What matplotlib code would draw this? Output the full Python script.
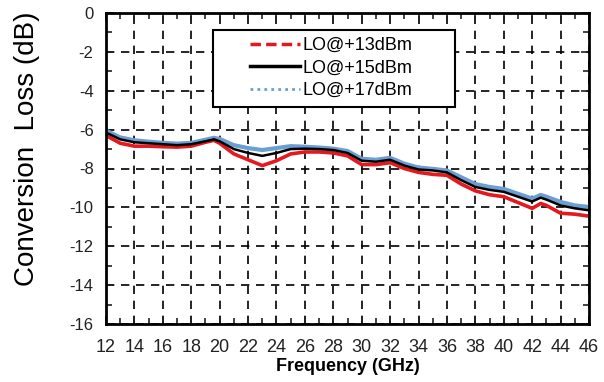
import numpy as np
import matplotlib
matplotlib.use("Agg")
import matplotlib.pyplot as plt
from matplotlib.lines import Line2D
from matplotlib.patches import Rectangle
from matplotlib.ticker import MultipleLocator

plt.rcParams['font.family'] = ['Liberation Sans', 'DejaVu Sans']
plt.rcParams['axes.unicode_minus'] = False

# frequency points (GHz)
freq = [12, 13, 14, 15, 16, 17, 18, 19, 19.6, 20, 21, 22, 23, 24, 25, 26, 27, 28,
        29, 30, 31, 32, 33, 34, 35, 36, 37, 38, 39, 40, 41, 42, 42.6, 43, 44, 45, 46]

# conversion loss (dB) for each LO drive level
loss_13 = [-6.30, -6.70, -6.85, -6.85, -6.88, -6.90, -6.85, -6.65, -6.55, -6.70,
           -7.25, -7.55, -7.85, -7.60, -7.25, -7.15, -7.15, -7.20, -7.35, -7.80,
           -7.80, -7.70, -8.00, -8.20, -8.30, -8.35, -8.80, -9.15, -9.35, -9.45,
           -9.75, -10.05, -9.80, -9.90, -10.30, -10.35, -10.45]
loss_15 = [-6.15, -6.50, -6.65, -6.70, -6.75, -6.80, -6.75, -6.60, -6.50, -6.60,
           -7.00, -7.20, -7.35, -7.20, -7.00, -6.98, -7.00, -7.05, -7.20, -7.60,
           -7.65, -7.55, -7.85, -8.05, -8.10, -8.20, -8.60, -8.95, -9.10, -9.20,
           -9.45, -9.70, -9.50, -9.60, -9.90, -10.05, -10.15]
loss_17 = [-6.05, -6.40, -6.55, -6.62, -6.68, -6.72, -6.68, -6.52, -6.42, -6.48,
           -6.80, -6.95, -7.05, -6.95, -6.85, -6.88, -6.92, -6.98, -7.10, -7.50,
           -7.55, -7.45, -7.75, -7.95, -8.02, -8.10, -8.45, -8.80, -8.95, -9.05,
           -9.30, -9.55, -9.36, -9.45, -9.72, -9.90, -9.98]

labels = ["LO@+13dBm", "LO@+15dBm", "LO@+17dBm"]
colors = ["#e3191f", "#000000", "#6b9fd4"]

fig = plt.figure(figsize=(6.04, 3.82), dpi=100)
ax = fig.add_axes([106 / 604, 1 - 324 / 382, 483 / 604, 311 / 382])

ax.plot(freq, loss_17, color=colors[2], lw=3.0, zorder=3)
ax.plot(freq, loss_13, color=colors[0], lw=2.6, zorder=3)
ax.plot(freq, loss_15, color=colors[1], lw=1.8, zorder=3)

ax.set_xlim(12, 46)
ax.set_ylim(-16, 0)
ax.xaxis.set_major_locator(MultipleLocator(2))
ax.xaxis.set_minor_locator(MultipleLocator(1))
ax.yaxis.set_major_locator(MultipleLocator(2))
ax.yaxis.set_minor_locator(MultipleLocator(1))

ax.grid(True, which='major', color='black', lw=1.2, ls=(0, (5, 4)), zorder=1)
for s in ax.spines.values():
    s.set_linewidth(2.0)
    s.set_zorder(6)

ax.tick_params(which='both', direction='in', top=True, right=True, width=1.2,
               colors='#222222')
ax.tick_params(which='major', length=6)
ax.tick_params(which='minor', length=4)
ax.tick_params(axis='x', labelsize=13, pad=11)
ax.tick_params(axis='y', labelsize=12, pad=9)

ax.set_xlabel("Frequency (GHz)", fontsize=13, fontweight='bold', labelpad=1)
fig.text(27 / 604, 1 - 149 / 382, "Conversion  Loss (dB)", rotation=90,
         ha='center', va='center', fontsize=20)

# legend box
box = Rectangle((0.2215, 0.698), 0.501, 0.247, transform=ax.transAxes,
                facecolor='white', edgecolor='black', lw=1.5, zorder=4)
ax.add_patch(box)
handles = [Line2D([], [], color=colors[0], lw=2.5, ls=(0, (3, 1.5))),
           Line2D([], [], color=colors[1], lw=2.5),
           Line2D([], [], color=colors[2], lw=2.0, ls=(0, (1, 1.5)))]
leg = ax.legend(handles, labels, loc='center left', bbox_to_anchor=(0.298, 0.823),
                frameon=False, fontsize=13, handlelength=2.75, handletextpad=0.15,
                labelspacing=0.3, borderpad=0, borderaxespad=0)
leg.set_zorder(5)

fig.savefig("out.png", dpi=100)
